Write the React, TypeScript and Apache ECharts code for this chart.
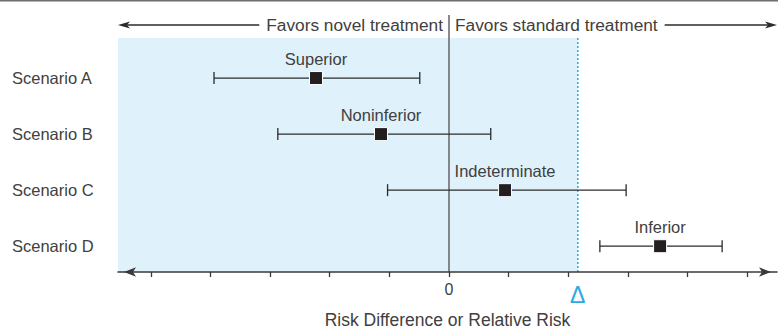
import React, { useEffect, useRef } from 'react';
import * as echarts from 'echarts';

const categories = ['Scenario A', 'Scenario B', 'Scenario C', 'Scenario D'];
const verdicts = ['Superior', 'Noninferior', 'Indeterminate', 'Inferior'];
const estimates = [-2.23, -1.14, 0.94, 3.54];
const lowerCI = [-3.94, -2.87, -1.03, 2.53];
const upperCI = [-0.49, 0.7, 2.97, 4.58];
const marginDelta = 2.16;
const xTicks = [-5, -4, -3, -2, -1, 0, 1, 2, 3, 4, 5];
const xTickLabels = [0, marginDelta];
const favorsLeft = 'Favors novel treatment';
const favorsRight = 'Favors standard treatment';
const xTitle = 'Risk Difference or Relative Risk';

const X_MIN = -5.55;
const X_MAX = 5.5;
const Y_MIN = 0;
const Y_MAX = 4.46;

const FONT = '"Liberation Sans", Arial, Helvetica, sans-serif';
const TEXT = '#404040';
const INK = '#231f20';
const BLUE = '#29abe2';

function measure(text: string, size: number): number {
  const c = document.createElement('canvas').getContext('2d');
  if (!c) return text.length * size * 0.5;
  c.font = `${size}px ${FONT}`;
  return c.measureText(text).width;
}

export default function App() {
  const ref = useRef<HTMLDivElement>(null);
  useEffect(() => {
    if (!ref.current) return;
    const chart = echarts.init(ref.current, undefined, { renderer: 'svg' });
    chart.setOption({
      animation: false,
      textStyle: { fontFamily: FONT },
      grid: { left: 118, right: 1, top: 22, bottom: 59, containLabel: false, outerBoundsMode: 'none' },
      xAxis: {
        type: 'value',
        position: 'bottom',
        min: X_MIN,
        max: X_MAX,
        z: 3,
        name: xTitle,
        nameLocation: 'middle',
        nameGap: 39,
        nameTextStyle: { fontSize: 17.5, color: TEXT, fontFamily: FONT },
        axisLine: {
          show: true,
          onZero: false,
          symbol: ['arrow', 'arrow'],
          symbolSize: [7, 12],
          symbolOffset: [6, -6],
          lineStyle: { color: '#3a3a3a', width: 1.5 },
        },
        axisTick: {
          show: true,
          customValues: xTicks,
          length: 5,
          inside: false,
          lineStyle: { color: '#3a3a3a', width: 1.3 },
        },
        axisLabel: {
          show: true,
          customValues: xTickLabels,
          margin: 9,
          formatter: (v: number) => (v === 0 ? '{z|0}' : '{d|Δ}'),
          rich: {
            z: { fontSize: 16, color: TEXT, fontFamily: FONT },
            d: { fontSize: 23, color: BLUE, fontFamily: FONT, padding: [2, 0, 0, 0] },
          },
        },
        splitLine: { show: false },
      },
      yAxis: {
        type: 'value',
        inverse: true,
        min: Y_MIN,
        max: Y_MAX,
        interval: 1,
        axisLine: { show: false },
        axisTick: { show: false },
        splitLine: { show: false },
        axisLabel: {
          align: 'left',
          margin: 106,
          fontSize: 16.5,
          color: TEXT,
          fontFamily: FONT,
          showMaxLabel: false,
          formatter: (v: number) => (Number.isInteger(v) ? categories[v - 1] ?? '' : ''),
        },
      },
      series: [
        {
          type: 'custom',
          z: 2,
          encode: { x: [0, 1], y: 2 },
          data: categories.map((_, i) => [lowerCI[i], upperCI[i], i + 1]),
          renderItem: (params: any, api: any) => {
            const lo = api.coord([api.value(0), api.value(2)]);
            const hi = api.coord([api.value(1), api.value(2)]);
            const h = 6;
            const style = { stroke: '#2b2b2b', lineWidth: 1.3 };
            return {
              type: 'group',
              children: [
                { type: 'line', shape: { x1: lo[0], y1: lo[1], x2: hi[0], y2: hi[1] }, style },
                { type: 'line', shape: { x1: lo[0], y1: lo[1] - h, x2: lo[0], y2: lo[1] + h }, style },
                { type: 'line', shape: { x1: hi[0], y1: hi[1] - h, x2: hi[0], y2: hi[1] + h }, style },
              ],
            };
          },
        },
        {
          type: 'scatter',
          z: 4,
          symbol: 'rect',
          symbolSize: 13,
          itemStyle: { color: INK, borderColor: '#ffffff', borderWidth: 1, opacity: 1 },
          data: estimates.map((v, i) => [v, i + 1]),
          label: {
            show: true,
            position: 'top',
            distance: 4,
            fontSize: 16.5,
            color: TEXT,
            fontFamily: FONT,
            formatter: (p: any) => verdicts[p.dataIndex],
          },
          emphasis: { disabled: true },
        },
      ],
    });

    const px = (v: number) => chart.convertToPixel({ xAxisIndex: 0 }, v) as number;
    const py = (v: number) => chart.convertToPixel({ yAxisIndex: 0 }, v) as number;
    const x0 = px(0);
    const xD = px(marginDelta);
    const xL = px(X_MIN);
    const xR = px(X_MAX);
    const yAx = py(Y_MAX);
    const shadeTop = 38;
    const arrowY = 25;
    const topSize = 17.3;
    const wL = measure(favorsLeft, topSize);
    const wR = measure(favorsRight, topSize);
    const gapText = 6;
    const gapLine = 7;
    const lineStyle = { stroke: '#2b2b2b', lineWidth: 1.3 };

    chart.setOption({
      graphic: {
        elements: [
          { type: 'line', z: 0, shape: { x1: 0, y1: 0.75, x2: 778, y2: 0.75 }, style: { stroke: '#6e6e6e', lineWidth: 1.5 } },
          { type: 'rect', z: 0, shape: { x: xL, y: shadeTop, width: xD - xL, height: yAx - shadeTop }, style: { fill: '#dff1fb' } },
          { type: 'line', z: 1, shape: { x1: x0, y1: 15, x2: x0, y2: yAx }, style: { stroke: '#6d6d6d', lineWidth: 1.6 } },
          { type: 'line', z: 1, shape: { x1: xD, y1: shadeTop, x2: xD, y2: yAx }, style: { stroke: BLUE, lineWidth: 1.5, lineDash: [2, 2] } },
          { type: 'text', z: 1, x: x0 - gapText, y: arrowY, style: { text: favorsLeft, fontSize: topSize, fontFamily: FONT, fill: TEXT, align: 'right', verticalAlign: 'middle' } },
          { type: 'text', z: 1, x: x0 + gapText, y: arrowY, style: { text: favorsRight, fontSize: topSize, fontFamily: FONT, fill: TEXT, align: 'left', verticalAlign: 'middle' } },
          { type: 'line', z: 1, shape: { x1: xL + 8, y1: arrowY, x2: x0 - gapText - wL - gapLine, y2: arrowY }, style: lineStyle },
          { type: 'polygon', z: 1, shape: { points: [[xL, arrowY], [xL + 12, arrowY - 3.5], [xL + 9, arrowY], [xL + 12, arrowY + 3.5]] }, style: { fill: '#2b2b2b' } },
          { type: 'line', z: 1, shape: { x1: x0 + gapText + wR + gapLine, y1: arrowY, x2: xR - 8, y2: arrowY }, style: lineStyle },
          { type: 'polygon', z: 1, shape: { points: [[xR, arrowY], [xR - 12, arrowY - 3.5], [xR - 9, arrowY], [xR - 12, arrowY + 3.5]] }, style: { fill: '#2b2b2b' } },
        ],
      },
    });

    return () => chart.dispose();
  }, []);
  return (
    <div
      ref={ref}
      style={{ position: 'fixed', left: 0, top: 0, width: 778, height: 331, background: '#ffffff' }}
    />
  );
}
